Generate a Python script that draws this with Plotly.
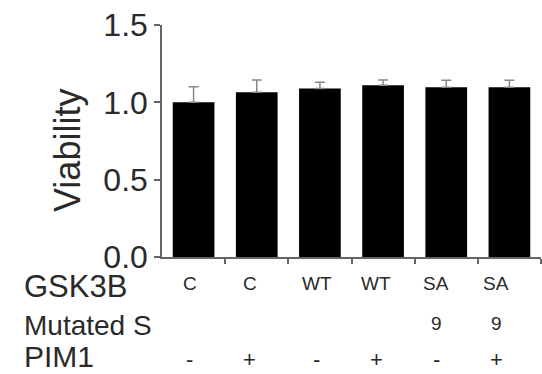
import plotly.graph_objects as go

categories = ["1", "2", "3", "4", "5", "6"]
viability = [1.00, 1.065, 1.09, 1.11, 1.097, 1.097]
errors = [0.10, 0.08, 0.04, 0.035, 0.045, 0.045]
gsk3b = ["C", "C", "WT", "WT", "SA", "SA"]
mutated_s = ["", "", "", "", "9", "9"]
pim1 = ["-", "+", "-", "+", "-", "+"]
ytick_vals = [0.0, 0.5, 1.0, 1.5]
ytick_text = ["0.0", "0.5", "1.0", "1.5"]
row_names = ["GSK3B", "Mutated S", "PIM1"]
y_title = "Viability"

FONT = "Arial, Liberation Sans, sans-serif"
TXT = "#2a2a2a"

fig = go.Figure()
fig.add_trace(go.Bar(
    x=list(range(len(categories))), y=viability,
    marker=dict(color="black", line=dict(width=0)),
    width=0.66,
    error_y=dict(type="data", array=errors, arrayminus=[0]*len(errors),
                 color="#888888", thickness=1.5, width=5),
))

ann = []
shifts = [-4, -7, -3, -7, -10, -13]
row_y = [(283, 19, gsk3b), (323, 19, mutated_s), (359, 22, pim1)]
for y_px, size, labels in row_y:
    for i, t in enumerate(labels):
        if not t:
            continue
        ann.append(dict(x=i, xref="x", y=(257 - y_px) / 232, yref="paper",
                        text=t, showarrow=False, xshift=shifts[i],
                        font=dict(family=FONT, size=size, color=TXT),
                        xanchor="center", yanchor="middle"))
for name, y_px, size in zip(row_names, [286, 325, 357], [31, 28, 30]):
    ann.append(dict(x=(22 - 162) / 379, xref="paper", y=(257 - y_px) / 232, yref="paper",
                    text=name, showarrow=False, xanchor="left", yanchor="middle",
                    font=dict(family=FONT, size=size, color=TXT)))
ann.append(dict(x=(67 - 162) / 379, xref="paper", y=(257 - 151) / 232, yref="paper",
                text=y_title, showarrow=False, textangle=-90,
                xanchor="center", yanchor="middle",
                font=dict(family=FONT, size=36, color=TXT)))

fig.update_layout(
    width=542, height=374,
    margin=dict(l=162, r=1, t=25, b=117, autoexpand=False),
    paper_bgcolor="white", plot_bgcolor="white",
    showlegend=False,
    annotations=ann,
    xaxis=dict(range=[-0.5, 5.5], showgrid=False, zeroline=False, automargin=False,
               showline=True, linecolor="#666666", linewidth=1.5,
               tickmode="array", tickvals=[i + 0.5 for i in range(len(categories))],
               ticks="outside", ticklen=5, tickcolor="#666666", tickwidth=1.5,
               showticklabels=False),
    yaxis=dict(range=[0, 1.5], showgrid=False, zeroline=False, automargin=False,
               showline=True, linecolor="#666666", linewidth=1.5,
               tickmode="array", tickvals=ytick_vals, ticktext=ytick_text,
               ticks="outside", ticklen=6, tickcolor="#666666", tickwidth=1.5,
               tickfont=dict(family=FONT, size=32, color=TXT)),
)

fig.write_html("out.html", config={"displayModeBar": False},
               post_script="document.body.style.margin='0';document.body.style.overflow='hidden';")
